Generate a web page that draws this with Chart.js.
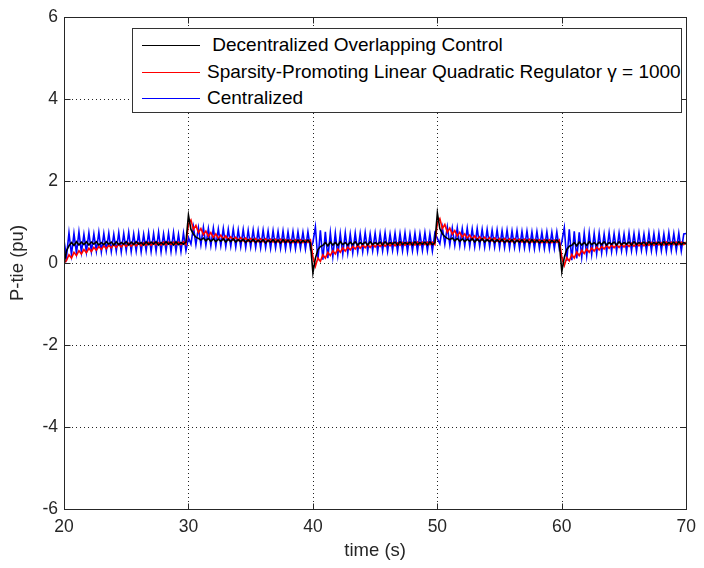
<!DOCTYPE html>
<html><head><meta charset="utf-8">
<script src="https://cdn.jsdelivr.net/npm/chart.js@4.4.0/dist/chart.umd.min.js"></script>
<style>
html,body{margin:0;padding:0;background:#fff;}
#wrap{position:relative;width:704px;height:568px;}
#legend{position:absolute;left:132px;top:28px;width:550px;height:85px;border:1px solid #333;background:#fff;font-family:"Liberation Sans",Arial,sans-serif;font-size:19px;color:#000;box-sizing:border-box;}
.row{position:absolute;left:0;height:26px;line-height:26px;white-space:pre;width:540px;}
.sw{position:absolute;left:9px;width:58px;height:0;border-top:1px solid;top:13px;}
.lbl{position:absolute;left:74px;top:0;}
</style></head>
<body>
<div id="wrap">
<canvas id="c" width="704" height="568"></canvas>
<div id="legend">
  <div class="row" style="top:3px"><span class="sw" style="border-color:#000"></span><span class="lbl"> Decentralized Overlapping Control</span></div>
  <div class="row" style="top:30px"><span class="sw" style="border-color:#ff0000"></span><span class="lbl">Sparsity-Promoting Linear Quadratic Regulator γ = 1000</span></div>
  <div class="row" style="top:56px"><span class="sw" style="border-color:#0000ff"></span><span class="lbl">Centralized</span></div>
</div>
</div>
<script>
// time sampling (s)
const T_START = 20;
const T_STEP = 0.2;
const xTicks = [20, 30, 40, 50, 60, 70];
const yTicks = [-6, -4, -2, 0, 2, 4, 6];
const seriesNames = [" Decentralized Overlapping Control", "Sparsity-Promoting Linear Quadratic Regulator γ = 1000", "Centralized"];

// Decentralized Overlapping Control (black)
const decentralized = [
 -0.05,0.30,0.42,0.50,0.43,0.52,0.44,0.51,0.45,0.52,
 0.44,0.51,0.46,0.52,0.44,0.50,0.45,0.52,0.46,0.51,
 0.44,0.52,0.45,0.50,0.46,0.52,0.44,0.51,0.45,0.52,
 0.46,0.50,0.44,0.52,0.45,0.51,0.46,0.52,0.44,0.50,
 0.45,0.52,0.46,0.51,0.44,0.52,0.45,0.50,0.46,0.51,
 1.17,0.82,0.70,0.63,0.60,0.56,0.61,0.54,0.60,0.53,
 0.59,0.52,0.58,0.53,0.59,0.51,0.58,0.52,0.59,0.51,
 0.57,0.52,0.58,0.50,0.57,0.51,0.58,0.50,0.56,0.51,
 0.57,0.49,0.56,0.51,0.57,0.50,0.56,0.49,0.57,0.50,
 0.56,0.49,0.55,0.50,0.56,0.49,0.55,0.50,0.56,0.49,
 -0.24,0.12,0.32,0.40,0.43,0.50,0.42,0.51,0.44,0.50,
 0.43,0.52,0.45,0.50,0.44,0.51,0.45,0.52,0.44,0.50,
 0.46,0.51,0.44,0.52,0.45,0.50,0.46,0.51,0.44,0.52,
 0.45,0.50,0.46,0.51,0.44,0.52,0.45,0.50,0.46,0.51,
 0.44,0.52,0.45,0.50,0.46,0.51,0.44,0.52,0.45,0.50,
 1.22,0.84,0.71,0.64,0.60,0.57,0.61,0.54,0.60,0.53,
 0.59,0.52,0.58,0.53,0.59,0.51,0.58,0.52,0.59,0.51,
 0.57,0.52,0.58,0.50,0.57,0.51,0.58,0.50,0.56,0.51,
 0.57,0.49,0.56,0.51,0.57,0.50,0.56,0.49,0.57,0.50,
 0.56,0.49,0.55,0.50,0.56,0.49,0.55,0.50,0.56,0.49,
 -0.21,0.14,0.33,0.41,0.43,0.50,0.42,0.51,0.44,0.50,
 0.43,0.52,0.45,0.50,0.44,0.51,0.45,0.52,0.44,0.50,
 0.46,0.51,0.44,0.52,0.45,0.50,0.46,0.51,0.44,0.52,
 0.45,0.50,0.46,0.51,0.44,0.52,0.45,0.50,0.46,0.51,
 0.44,0.52,0.45,0.50,0.46,0.51,0.44,0.52,0.45,0.50,
 0.46
];

// Sparsity-Promoting LQR (red)
const sparsityLQR = [
 0.00,0.06,0.20,0.12,0.26,0.18,0.30,0.22,0.33,0.25,
 0.36,0.28,0.38,0.31,0.40,0.33,0.42,0.35,0.43,0.37,
 0.45,0.38,0.46,0.39,0.47,0.40,0.48,0.41,0.48,0.42,
 0.49,0.42,0.49,0.43,0.50,0.43,0.50,0.44,0.50,0.44,
 0.51,0.44,0.51,0.45,0.51,0.45,0.51,0.45,0.52,0.45,
 0.95,1.05,0.82,0.92,0.74,0.84,0.69,0.78,0.65,0.74,
 0.62,0.71,0.60,0.68,0.58,0.66,0.57,0.64,0.56,0.63,
 0.55,0.62,0.54,0.61,0.53,0.60,0.53,0.60,0.52,0.59,
 0.52,0.59,0.52,0.58,0.51,0.58,0.51,0.58,0.51,0.57,
 0.51,0.57,0.50,0.57,0.50,0.57,0.50,0.56,0.50,0.56,
 0.15,-0.08,0.12,0.04,0.20,0.12,0.26,0.18,0.30,0.22,
 0.34,0.26,0.37,0.29,0.39,0.32,0.41,0.34,0.43,0.36,
 0.44,0.37,0.45,0.38,0.46,0.39,0.47,0.40,0.48,0.41,
 0.48,0.42,0.49,0.42,0.49,0.43,0.50,0.43,0.50,0.44,
 0.50,0.44,0.51,0.44,0.51,0.45,0.51,0.45,0.51,0.45,
 0.97,1.08,0.84,0.94,0.75,0.85,0.70,0.79,0.66,0.75,
 0.63,0.71,0.60,0.68,0.58,0.66,0.57,0.64,0.56,0.63,
 0.55,0.62,0.54,0.61,0.53,0.60,0.53,0.60,0.52,0.59,
 0.52,0.59,0.52,0.58,0.51,0.58,0.51,0.58,0.51,0.57,
 0.51,0.57,0.50,0.57,0.50,0.57,0.50,0.56,0.50,0.56,
 0.14,-0.06,0.13,0.05,0.21,0.12,0.27,0.18,0.31,0.23,
 0.34,0.26,0.37,0.29,0.39,0.32,0.41,0.34,0.43,0.36,
 0.44,0.37,0.45,0.38,0.46,0.39,0.47,0.40,0.48,0.41,
 0.48,0.42,0.49,0.42,0.49,0.43,0.50,0.43,0.50,0.44,
 0.50,0.44,0.51,0.44,0.51,0.45,0.51,0.45,0.51,0.45,
 0.51
];

// Centralized (blue)
const centralized = [
 0.55,0.15,0.74,0.20,0.72,0.24,0.76,0.26,0.70,0.27,
 0.74,0.28,0.71,0.29,0.75,0.27,0.72,0.30,0.73,0.28,
 0.70,0.29,0.74,0.27,0.72,0.30,0.75,0.28,0.71,0.29,
 0.73,0.27,0.70,0.30,0.74,0.28,0.72,0.29,0.75,0.27,
 0.71,0.30,0.73,0.28,0.74,0.29,0.70,0.28,0.73,0.30,
 0.62,0.46,0.88,0.45,0.86,0.44,0.87,0.43,0.84,0.42,
 0.85,0.41,0.83,0.42,0.84,0.40,0.82,0.41,0.83,0.39,
 0.81,0.40,0.82,0.38,0.80,0.39,0.81,0.38,0.79,0.37,
 0.80,0.38,0.78,0.36,0.79,0.37,0.77,0.36,0.78,0.35,
 0.76,0.36,0.77,0.35,0.76,0.36,0.75,0.34,0.76,0.35,
 0.50,0.88,0.06,0.80,0.08,0.76,0.12,0.74,0.16,0.73,
 0.19,0.72,0.22,0.74,0.24,0.71,0.25,0.73,0.27,0.72,
 0.28,0.74,0.29,0.71,0.30,0.73,0.28,0.72,0.30,0.74,
 0.29,0.71,0.31,0.73,0.29,0.72,0.30,0.74,0.28,0.71,
 0.30,0.73,0.29,0.72,0.31,0.74,0.30,0.71,0.29,0.73,
 0.60,0.47,0.87,0.46,0.88,0.44,0.85,0.43,0.86,0.42,
 0.84,0.42,0.85,0.41,0.83,0.40,0.84,0.41,0.82,0.39,
 0.82,0.40,0.80,0.39,0.81,0.38,0.79,0.38,0.80,0.37,
 0.78,0.38,0.79,0.36,0.77,0.37,0.78,0.36,0.76,0.35,
 0.77,0.36,0.75,0.35,0.76,0.34,0.75,0.35,0.76,0.34,
 0.52,0.86,0.05,0.82,0.07,0.77,0.11,0.75,0.15,0.73,
 0.18,0.74,0.21,0.72,0.23,0.73,0.25,0.71,0.27,0.74,
 0.28,0.72,0.29,0.73,0.30,0.71,0.28,0.74,0.30,0.72,
 0.29,0.73,0.31,0.71,0.29,0.74,0.30,0.72,0.28,0.73,
 0.30,0.71,0.29,0.74,0.31,0.72,0.30,0.73,0.29,0.71,
 0.72
];

const toPoints = arr => arr.map((v, i) => ({ x: T_START + i * T_STEP, y: v }));

const FONT = '"Liberation Sans", Arial, sans-serif';
const AXIS_COLOR = '#262626';

const framePlugin = {
  id: 'frame',
  beforeDatasetsDraw(chart) {
    const { ctx, chartArea: a, scales: { x, y } } = chart;
    ctx.save();
    ctx.strokeStyle = '#222';
    ctx.lineWidth = 1;
    ctx.setLineDash([1, 3]);
    ctx.beginPath();
    xTicks.forEach(v => {
      if (v === xTicks[0] || v === xTicks[xTicks.length - 1]) return;
      const px = Math.round(x.getPixelForValue(v)) + 0.5;
      ctx.moveTo(px, a.top); ctx.lineTo(px, a.bottom);
    });
    yTicks.forEach(v => {
      if (v === yTicks[0] || v === yTicks[yTicks.length - 1]) return;
      const py = Math.round(y.getPixelForValue(v)) + 0.5;
      ctx.moveTo(a.left, py); ctx.lineTo(a.right, py);
    });
    ctx.stroke();
    ctx.restore();
  },
  afterDatasetsDraw(chart) {
    const { ctx, chartArea: a, scales: { x, y } } = chart;
    const L = Math.round(a.left) + 0.5, R = Math.round(a.right) + 0.5;
    const T = Math.round(a.top) + 0.5, B = Math.round(a.bottom) + 0.5;
    ctx.save();
    ctx.strokeStyle = AXIS_COLOR;
    ctx.lineWidth = 1;
    ctx.setLineDash([]);
    ctx.strokeRect(L, T, R - L, B - T);
    const tl = 6;
    ctx.beginPath();
    xTicks.forEach(v => {
      const px = Math.round(x.getPixelForValue(v)) + 0.5;
      ctx.moveTo(px, B); ctx.lineTo(px, B - tl);
      ctx.moveTo(px, T); ctx.lineTo(px, T + tl);
    });
    yTicks.forEach(v => {
      const py = Math.round(y.getPixelForValue(v)) + 0.5;
      ctx.moveTo(L, py); ctx.lineTo(L + tl, py);
      ctx.moveTo(R, py); ctx.lineTo(R - tl, py);
    });
    ctx.stroke();
    ctx.restore();
  }
};

new Chart(document.getElementById('c'), {
  type: 'line',
  data: {
    datasets: [
      { label: seriesNames[0], data: toPoints(decentralized), borderColor: '#000000', borderWidth: 1.6, pointRadius: 0, fill: false, tension: 0, order: 1 },
      { label: seriesNames[1], data: toPoints(sparsityLQR), borderColor: '#ff0000', borderWidth: 1.6, pointRadius: 0, fill: false, tension: 0, order: 2 },
      { label: seriesNames[2], data: toPoints(centralized), borderColor: '#0000ff', borderWidth: 1.6, pointRadius: 0, fill: false, tension: 0, order: 3 }
    ]
  },
  options: {
    responsive: false,
    animation: false,
    devicePixelRatio: 1,
    layout: { padding: { top: 17, right: 14, bottom: 0, left: 0 } },
    plugins: { legend: { display: false }, tooltip: { enabled: false } },
    scales: {
      x: {
        type: 'linear', min: 20, max: 70,
        afterBuildTicks: s => { s.ticks = xTicks.map(v => ({ value: v })); },
        afterFit: s => { s.height = 59; },
        grid: { display: false, drawTicks: false },
        border: { display: false },
        ticks: { color: AXIS_COLOR, font: { family: FONT, size: 17.5 }, padding: 8, maxRotation: 0 },
        title: { display: true, text: 'time (s)', color: AXIS_COLOR, font: { family: FONT, size: 18.5 }, padding: { top: 2, bottom: 6 } }
      },
      y: {
        type: 'linear', min: -6, max: 6,
        afterBuildTicks: s => { s.ticks = yTicks.map(v => ({ value: v })); },
        afterFit: s => { s.width = 64; },
        grid: { display: false, drawTicks: false },
        border: { display: false },
        ticks: { color: AXIS_COLOR, font: { family: FONT, size: 17.5 }, padding: 6 },
        title: { display: true, text: 'P-tie (pu)', color: AXIS_COLOR, font: { family: FONT, size: 18.5 }, padding: { top: 7, bottom: 0 } }
      }
    }
  },
  plugins: [framePlugin]
});
</script>
</body></html>
